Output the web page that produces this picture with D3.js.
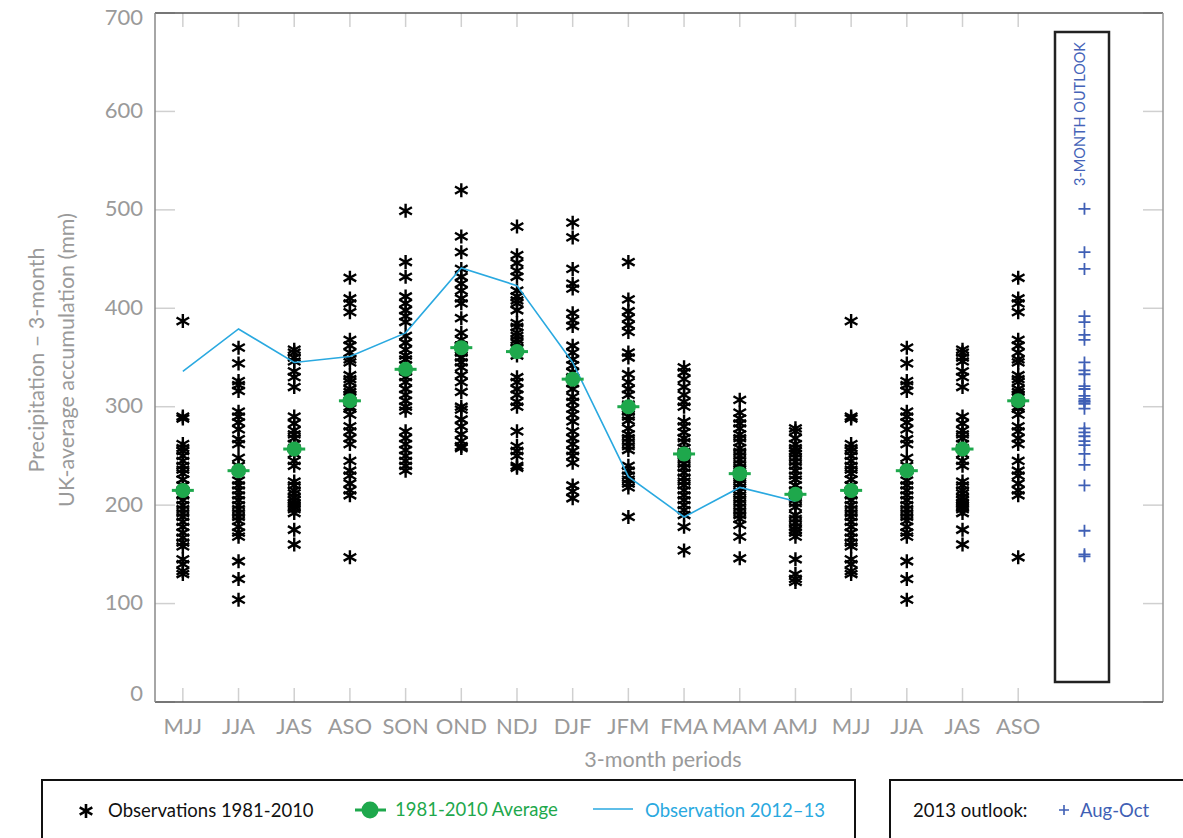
<!DOCTYPE html>
<html>
<head>
<meta charset="UTF-8">
<title>UK 3-month precipitation</title>
<style>
    body { margin: 0; background: white; font-family: Lato, "Noto Sans", sans-serif; }
    svg { display: block; }
    .tick-label { fill: #9a9a9a; font-size: 22px; }
    .axis-title { fill: #9a9a9a; font-size: 21.5px; }
    .legend text { font-size: 18.5px; }
</style>
</head>
<body>
<script src="https://d3js.org/d3.v7.min.js"></script>
<script>
    var width = 1183, height = 838;

    // 3-month periods on the x axis (the last four repeat the first four)
    var periods = ["MJJ", "JJA", "JAS", "ASO", "SON", "OND", "NDJ", "DJF", "JFM", "FMA", "MAM", "AMJ",
                   "MJJ", "JJA", "JAS", "ASO"];
    var yTicks = [0, 100, 200, 300, 400, 500, 600, 700];

    // 1981-2010 observations, one list per season (MJJ .. AMJ)
    var observations = [
        [387, 290, 288, 262, 258, 255, 250, 245, 240, 236, 232, 226, 220, 215, 210, 205, 200, 196, 192, 188, 183, 178, 172, 167, 162, 158, 145, 140, 133, 130],
        [360, 344, 326, 322, 316, 295, 290, 284, 277, 267, 262, 248, 240, 235, 225, 220, 215, 210, 205, 200, 196, 192, 188, 184, 178, 172, 168, 143, 125, 104],
        [358, 355, 350, 346, 336, 330, 320, 290, 283, 276, 272, 268, 262, 258, 252, 245, 240, 224, 220, 215, 212, 208, 205, 202, 200, 198, 196, 192, 175, 160],
        [431, 410, 405, 396, 368, 362, 355, 348, 345, 332, 328, 325, 318, 315, 312, 310, 300, 298, 292, 280, 275, 268, 262, 245, 235, 230, 222, 215, 210, 147],
        [499, 447, 432, 412, 405, 398, 392, 386, 372, 365, 358, 352, 348, 342, 336, 330, 325, 318, 312, 306, 300, 296, 275, 268, 262, 256, 250, 245, 240, 235],
        [520, 473, 457, 440, 432, 425, 418, 410, 405, 390, 375, 368, 362, 362, 358, 355, 350, 345, 340, 332, 325, 315, 300, 297, 287, 280, 272, 265, 260, 258],
        [483, 454, 446, 438, 432, 418, 412, 408, 405, 398, 385, 381, 375, 372, 368, 365, 360, 352, 330, 325, 318, 312, 305, 300, 275, 260, 255, 250, 240, 238],
        [487, 472, 440, 425, 420, 395, 388, 382, 362, 355, 348, 342, 335, 330, 324, 318, 310, 305, 298, 292, 285, 275, 268, 262, 255, 250, 243, 220, 214, 207],
        [447, 409, 397, 390, 383, 376, 355, 350, 333, 325, 318, 312, 302, 298, 295, 290, 286, 278, 272, 268, 264, 260, 256, 240, 235, 230, 226, 222, 218, 188],
        [340, 335, 328, 320, 312, 305, 300, 285, 280, 274, 268, 264, 258, 254, 250, 246, 242, 238, 233, 228, 224, 220, 215, 210, 205, 200, 195, 190, 178, 154],
        [307, 294, 288, 283, 278, 272, 268, 264, 258, 254, 250, 246, 242, 238, 234, 230, 226, 222, 218, 214, 210, 206, 202, 198, 194, 190, 186, 180, 168, 146],
        [278, 275, 268, 262, 258, 255, 252, 248, 244, 240, 235, 230, 226, 220, 215, 210, 206, 202, 198, 190, 186, 182, 178, 175, 172, 168, 145, 130, 125, 122]
    ];

    // 1981-2010 average, per period
    var averages = [215, 235, 257, 306, 338, 360, 356, 328, 300, 252, 232, 211, 215, 235, 257, 306];

    // observed 2012-13 (MJJ 2012 .. AMJ 2013)
    var observed2012 = [336, 379, 345, 351, 375, 441, 423, 345, 229, 188, 218, 204];

    // 2013 outlook members, Aug-Oct
    var outlook = [501, 457, 440, 392, 386, 373, 368, 345, 337, 333, 321, 318, 311, 308, 306, 305, 303, 298,
                   278, 274, 270, 265, 261, 252, 241, 220, 174, 150, 148];
    var outlookPos = 16.1;

    var svg = d3.select("body").append("svg")
        .attr("width", width)
        .attr("height", height);

    var x = d3.scaleLinear().domain([-0.5, 17.6]).range([155, 1163]);
    var y = d3.scaleLinear().domain([0, 700]).range([702, 13]);

    // frame and short ticks
    var grid = svg.append("g");
    yTicks.forEach(function(t) {
        grid.append("line").attr("x1", 155).attr("x2", 175).attr("y1", y(t)).attr("y2", y(t))
            .attr("stroke", "#d0d0d0").attr("stroke-width", 1.5);
        grid.append("line").attr("x1", 1143).attr("x2", 1163).attr("y1", y(t)).attr("y2", y(t))
            .attr("stroke", "#d0d0d0").attr("stroke-width", 1.5);
    });
    periods.forEach(function(p, i) {
        grid.append("line").attr("x1", x(i)).attr("x2", x(i)).attr("y1", 688).attr("y2", 702)
            .attr("stroke", "#d0d0d0").attr("stroke-width", 1.5);
        grid.append("line").attr("x1", x(i)).attr("x2", x(i)).attr("y1", 13).attr("y2", 27)
            .attr("stroke", "#d0d0d0").attr("stroke-width", 1.5);
    });
    svg.append("line").attr("x1", 155).attr("x2", 1163).attr("y1", 13).attr("y2", 13)
        .attr("stroke", "#555").attr("stroke-width", 1.5);
    svg.append("line").attr("x1", 1163).attr("x2", 1163).attr("y1", 13).attr("y2", 702)
        .attr("stroke", "#999").attr("stroke-width", 1.5);
    svg.append("line").attr("x1", 155).attr("x2", 1163).attr("y1", 702).attr("y2", 702)
        .attr("stroke", "#555").attr("stroke-width", 1.5);
    svg.append("line").attr("x1", 155).attr("x2", 155).attr("y1", 13).attr("y2", 702)
        .attr("stroke", "#888").attr("stroke-width", 1.5);

    // tick labels (end labels nudged inside, as in the original)
    svg.selectAll(".ylab").data(yTicks).enter().append("text")
        .attr("class", "tick-label")
        .attr("x", 143)
        .attr("y", function(d) { return y(d) + (d === 700 ? 5 : d === 0 ? -8 : 0); })
        .attr("dy", "0.3em").attr("text-anchor", "end")
        .text(function(d) { return d; });
    svg.selectAll(".xlab").data(periods).enter().append("text")
        .attr("class", "tick-label")
        .attr("x", function(d, i) { return x(i); }).attr("y", 734)
        .attr("text-anchor", "middle")
        .text(function(d) { return d; });

    // axis titles
    svg.append("text").attr("class", "axis-title")
        .attr("transform", "translate(44,360) rotate(-90)")
        .attr("text-anchor", "middle").text("Precipitation – 3-month");
    svg.append("text").attr("class", "axis-title")
        .attr("transform", "translate(74,360) rotate(-90)")
        .attr("text-anchor", "middle").text("UK-average accumulation (mm)");
    svg.append("text").attr("class", "axis-title")
        .attr("x", 663).attr("y", 767).attr("text-anchor", "middle").text("3-month periods");

    // outlook box
    svg.append("rect").attr("x", 1055).attr("y", 32).attr("width", 54).attr("height", 650)
        .attr("fill", "white").attr("stroke", "#222").attr("stroke-width", 2.5);
    svg.append("text")
        .attr("transform", "translate(" + (x(outlookPos) + 6) + ",114) rotate(-90)")
        .attr("text-anchor", "middle").attr("fill", "#4563b8").attr("font-size", 14.5)
        .text("3-MONTH OUTLOOK");

    var star = "M0,-7V7M-6.3,-3.6L6.3,3.6M-6.3,3.6L6.3,-3.6";
    var plus = "M-6,0H6M0,-6V6";

    // observations
    var obs = svg.append("g");
    periods.forEach(function(p, i) {
        obs.selectAll(null).data(observations[i % 12]).enter().append("path")
            .attr("d", star)
            .attr("transform", function(d) { return "translate(" + x(i) + "," + y(d) + ")"; })
            .attr("stroke", "#000").attr("stroke-width", 2.4).attr("fill", "none");
    });

    // 2012-13 observed line
    svg.append("path")
        .datum(observed2012)
        .attr("d", d3.line().x(function(d, i) { return x(i); }).y(function(d) { return y(d); }))
        .attr("fill", "none").attr("stroke", "#2aa9e0").attr("stroke-width", 1.6);

    // averages
    var avg = svg.append("g").selectAll("g").data(averages).enter().append("g")
        .attr("transform", function(d, i) { return "translate(" + x(i) + "," + y(d) + ")"; });
    avg.append("line").attr("x1", -11).attr("x2", 11).attr("stroke", "#1ea84c").attr("stroke-width", 3);
    avg.append("circle").attr("r", 7.5).attr("fill", "#1ea84c");

    // outlook members
    svg.append("g").selectAll("path").data(outlook).enter().append("path")
        .attr("d", plus)
        .attr("transform", function(d) { return "translate(" + (x(outlookPos) + 5) + "," + y(d) + ")"; })
        .attr("stroke", "#3f5fb5").attr("stroke-width", 1.8).attr("fill", "none");

    // legend
    var lg = svg.append("g").attr("class", "legend");
    lg.append("rect").attr("x", 42).attr("y", 780).attr("width", 813).attr("height", 80)
        .attr("fill", "none").attr("stroke", "#111").attr("stroke-width", 2);
    lg.append("path").attr("d", star).attr("transform", "translate(86,811)")
        .attr("stroke", "#000").attr("stroke-width", 2.6).attr("fill", "none");
    lg.append("text").attr("x", 108).attr("y", 817).attr("fill", "#111").text("Observations 1981-2010");
    lg.append("line").attr("x1", 355).attr("x2", 386).attr("y1", 810).attr("y2", 810)
        .attr("stroke", "#1ea84c").attr("stroke-width", 3);
    lg.append("circle").attr("cx", 370).attr("cy", 810).attr("r", 8.5).attr("fill", "#1ea84c");
    lg.append("text").attr("x", 395).attr("y", 816).attr("fill", "#1ea84c").text("1981-2010 Average");
    lg.append("line").attr("x1", 593).attr("x2", 633).attr("y1", 809).attr("y2", 809)
        .attr("stroke", "#2aa9e0").attr("stroke-width", 1.6);
    lg.append("text").attr("x", 645).attr("y", 817).attr("fill", "#2aa9e0").text("Observation 2012–13");

    lg.append("rect").attr("x", 890).attr("y", 780).attr("width", 310).attr("height", 80)
        .attr("fill", "none").attr("stroke", "#111").attr("stroke-width", 2);
    lg.append("text").attr("x", 913).attr("y", 817).attr("fill", "#111").text("2013 outlook:");
    lg.append("path").attr("d", "M-5,0H5M0,-5V5").attr("transform", "translate(1064,810)")
        .attr("stroke", "#3f5fb5").attr("stroke-width", 1.6);
    lg.append("text").attr("x", 1080).attr("y", 817).attr("fill", "#3f5fb5").text("Aug-Oct");
</script>
</body>
</html>
